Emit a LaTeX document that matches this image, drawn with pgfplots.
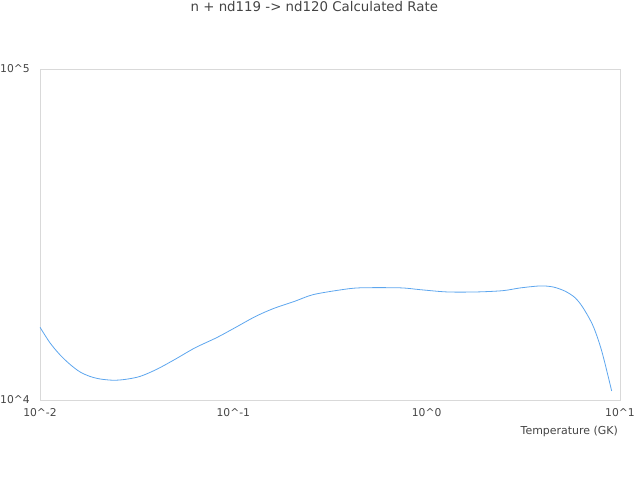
\documentclass[border=0pt]{standalone}
\usepackage{pgfplots}
\pgfplotsset{compat=1.18}
\usepackage{fontspec}
\setmainfont{DejaVu Sans}
\definecolor{linec}{HTML}{5DA6EE}
\definecolor{framec}{HTML}{D9D9D9}
\definecolor{textc}{HTML}{444444}
\begin{document}
\begin{tikzpicture}
\useasboundingbox (0,0) rectangle (640bp,480bp);
\begin{axis}[
  at={(40bp,80bp)}, anchor=south west,
  scale only axis, width=580bp, height=331bp,
  xmode=log, ymode=log,
  xmin=0.01, xmax=10, ymin=10000, ymax=100000,
  axis line style={framec, line width=0.8bp},
  major tick length=0, minor tick length=0,
  xtick={0.01,0.1,1,10},
  xticklabels={10\textasciicircum-2,10\textasciicircum-1,10\textasciicircum0,10\textasciicircum1},
  ytick={10000,100000},
  yticklabels={10\textasciicircum4,10\textasciicircum5},
  minor xtick={}, minor ytick={},
  tick label style={font=\fontsize{10.8}{12}\selectfont, text=textc},
  xticklabel style={anchor=center, inner sep=0pt, yshift=-13bp},
  yticklabel style={anchor=east, inner sep=0pt, xshift=-10bp},
  xlabel={Temperature (GK)},
  xlabel style={at={(rel axis cs:1,0)}, anchor=east, inner sep=0pt, yshift=-31.7bp, xshift=-2bp, font=\fontsize{11}{12}\selectfont, text=textc},
  title={n + nd119 -> nd120 Calculated Rate},
  title style={at={(rel axis cs:0.473,1)}, anchor=center, inner sep=0pt, yshift=56.5bp, font=\fontsize{13.4}{15}\selectfont, text=textc},
]
\addplot[linec, line width=0.8bp, no marks, smooth] coordinates {
(0.01000,16587) (0.01126,14887) (0.01269,13690) (0.01430,12810) (0.01610,12157)
(0.01814,11781) (0.02043,11576) (0.02385,11473) (0.02752,11537) (0.03291,11781)
(0.04029,12390) (0.04993,13266) (0.06333,14370) (0.08230,15446) (0.1020,16530)
(0.1294,17846) (0.1604,18870) (0.2085,19890) (0.2583,20805) (0.3562,21497)
(0.4518,21818) (0.7278,21818) (0.9237,21544) (1.274,21205) (1.821,21205)
(2.482,21395) (3.040,21800) (3.857,22106) (4.502,21953) (5.194,21323)
(5.851,20376) (6.437,19006) (7.251,16760) (8.040,14072) (9.056,10648)
};
\end{axis}
\end{tikzpicture}
\end{document}
